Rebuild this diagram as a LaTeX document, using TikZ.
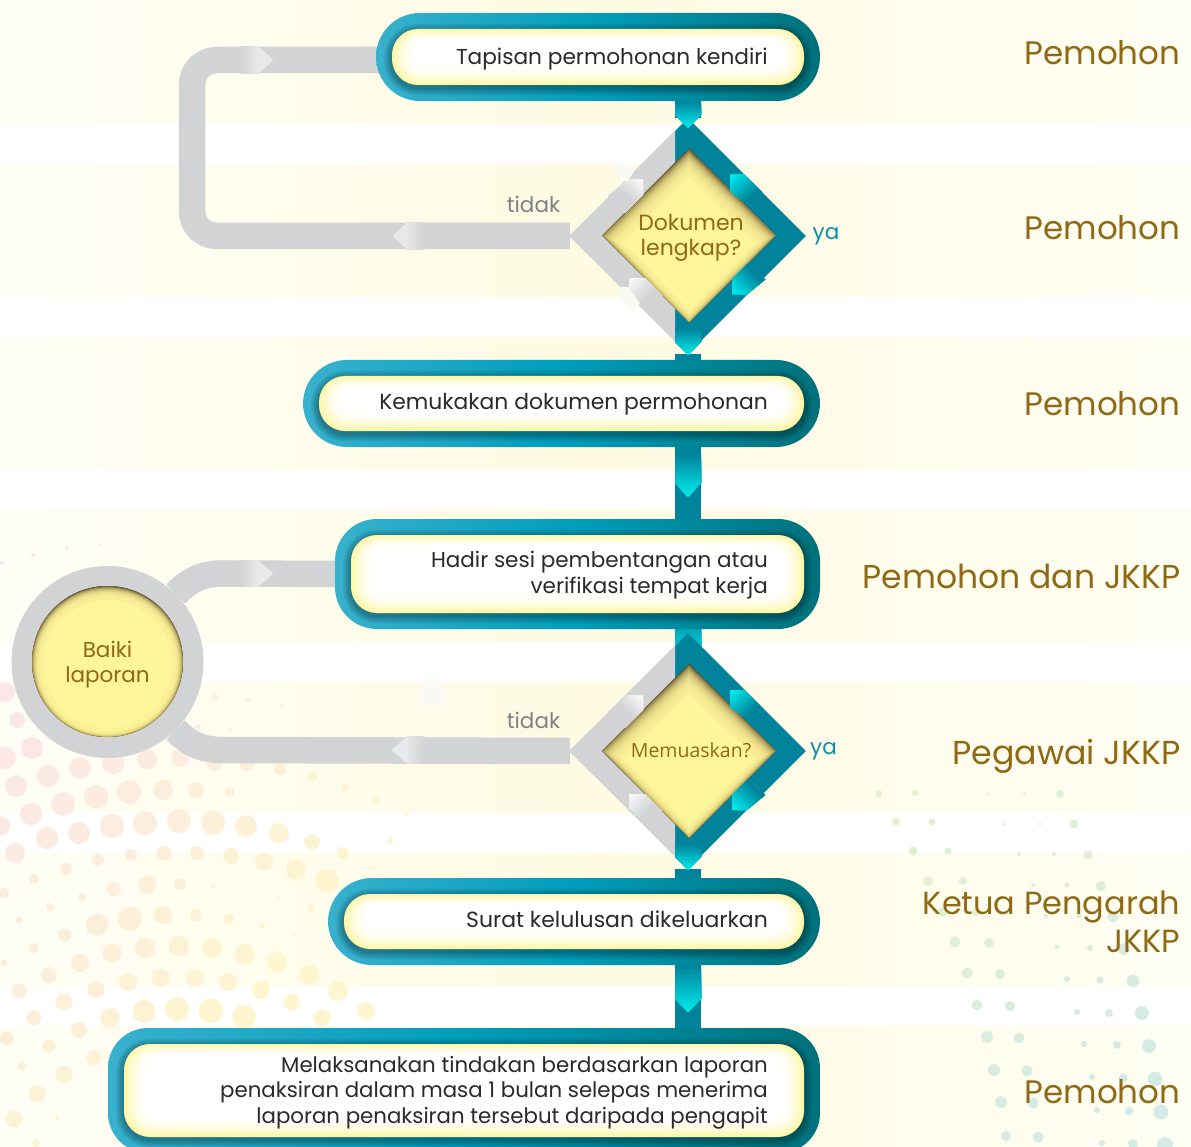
\documentclass[tikz,border=0pt]{standalone}
\usepackage{fontspec}
\usetikzlibrary{shapes.geometric,calc}
\setmainfont{Poppins}
\newfontfamily\narrowfont{Open Sans}
\pgfdeclarelayer{ground}
\pgfdeclarelayer{links}
\pgfsetlayers{ground,links,main}
\definecolor{bandl}{HTML}{FFFEF5}
\definecolor{bandm}{HTML}{FEFBE2}
\definecolor{bandr}{HTML}{FFFEF3}
\definecolor{rimL}{HTML}{38B1CD}
\definecolor{rimM}{HTML}{009DBB}
\definecolor{rimR}{HTML}{00717A}
\definecolor{stemc}{HTML}{00839B}
\definecolor{cyanc}{HTML}{00F0F0}
\definecolor{grayc}{HTML}{D1D3D4}
\definecolor{glowy}{HTML}{FFF6A6}
\definecolor{goldt}{HTML}{8F6914}
\definecolor{darkt}{HTML}{2A2A2E}
\definecolor{grayt}{HTML}{7F8285}
\definecolor{yat}{HTML}{0A8FA8}
\definecolor{dyel}{HTML}{FFF59B}
\definecolor{dbrT}{HTML}{75633A}
\definecolor{dbrB}{HTML}{C2AE55}
\definecolor{dotp}{HTML}{FBE6EA}
\definecolor{doty}{HTML}{FDF6CF}
\definecolor{dotg}{HTML}{E7F0CC}
\definecolor{dott}{HTML}{D4ECE6}
\definecolor{ghost}{HTML}{FAFAF4}
\colorlet{hilite}{white!92!grayc}
\colorlet{tipgray}{grayc!50!white}
\tikzset{
  band/.style={left color=bandl,right color=bandr,middle color=bandm},
  grayline/.style={draw=grayc,line width=26.5pt,line cap=butt,line join=round},
  stemline/.style={draw=stemc,line width=26pt},
  outerbox/.style={rectangle,inner sep=0pt,left color=rimL,right color=rimR,middle color=rimM},
  boxtext/.style={anchor=east,align=right,inner sep=0pt,text=darkt,font=\fontsize{21.6}{25.5}\selectfont},
  roletext/.style={anchor=east,align=right,inner sep=0pt,text=goldt,font=\fontsize{32.5}{38}\selectfont},
  goldtext/.style={align=center,inner sep=0pt,text=goldt,font=\fontsize{22}{25.5}\selectfont},
  sidetext/.style={inner sep=0pt,font=\fontsize{21.5}{25}\selectfont},
  decisionrim/.style={diamond,aspect=1,inner sep=0pt,minimum width=236pt,minimum height=236pt,fill=stemc},
  ringnode/.style={circle,inner sep=0pt,minimum size=192pt,fill=grayc},
}
% #1 polygon, #2 #3 start, #4 #5 unit direction, #6 length, #7 start colour, #8 end colour
\newcommand\decal[8]{%
  \begin{scope}
  \clip #1;
  \foreach \i in {0,...,18}{
    \pgfmathsetmacro\t{\i*(#6)/18}
    \pgfmathtruncatemacro\p{100*\i/18}
    \pgfmathsetmacro\ax{(#2)+\t*(#4)+200*(#5)}
    \pgfmathsetmacro\ay{(#3)+\t*(#5)-200*(#4)}
    \pgfmathsetmacro\bx{(#2)+\t*(#4)-200*(#5)}
    \pgfmathsetmacro\by{(#3)+\t*(#5)+200*(#4)}
    \pgfmathsetmacro\cx{\bx+300*(#4)}
    \pgfmathsetmacro\cy{\by+300*(#5)}
    \pgfmathsetmacro\dx{\ax+300*(#4)}
    \pgfmathsetmacro\dy{\ay+300*(#5)}
    \fill[#8!\p!#7] (\ax,\ay) -- (\bx,\by) -- (\cx,\cy) -- (\dx,\dy) -- cycle;
  }
  \end{scope}
}
% #1 top, #2 notch, #3 tip
\newcommand\chevron[3]{%
  \decal{(675,#1) -- (701,#1) -- (701,#2) -- (688,#3) -- (675,#2) -- cycle}{688}{#1}{0}{1}{#3-(#1)}{stemc}{cyanc}
}
% #1 name, #2 left x, #3 top y, #4 bottom y, #5 outer radius, #6 inner radius
\newcommand\flowbox[6]{%
  \pgfmathsetmacro\bw{820-#2}\pgfmathsetmacro\bh{#4-#3}%
  \pgfmathsetmacro\bcx{(820+#2)/2}\pgfmathsetmacro\bcy{(#3+#4)/2}%
  \node[outerbox,rounded corners=#5pt,minimum width=\bw pt,minimum height=\bh pt] (#1) at (\bcx,\bcy) {};
  \pgfmathsetmacro\ilx{#2+16}\pgfmathsetmacro\ity{#3+16}%
  \ifnum#4>1147\relax\pgfmathsetmacro\iby{1137}\else\pgfmathsetmacro\iby{#4-16}\fi
  \foreach \i in {1,...,6}{
    \pgfmathsetmacro\e{\i*1.3}
    \fill[black,fill opacity=.055,rounded corners=(#6+\e)*1pt] (\ilx-\e,\ity+2.5-\e) rectangle (804+\e,\iby+2.5+\e);
  }
  \foreach \i in {0,...,11}{
    \pgfmathtruncatemacro\p{100*(1-\i/12)*(1-\i/12)}
    \pgfmathsetmacro\rr{max(#6-\i*1.5,2)}
    \fill[glowy!\p!white,rounded corners=\rr pt] (\ilx+\i*2,\ity+\i*1.1) rectangle (804-\i*2,\iby-\i*1.7);
  }
}
% shaded pit of a diamond: #1 centre y
\newcommand\pitdiamond[1]{%
  \fill[top color=dbrT,bottom color=dbrB] (689,#1-87) -- (776,#1) -- (689,#1+87) -- (602,#1) -- cycle;
  \foreach \i in {1,...,14}{
    \pgfmathsetmacro\h{87-\i*1.5}
    \pgfmathsetmacro\c{#1+\i*.55}
    \fill[dyel,fill opacity=.24] (689,\c-\h) -- (689+\h,\c) -- (689,\c+\h) -- (689-\h,\c) -- cycle;
  }
  \pgfmathsetmacro\h{87-21}\pgfmathsetmacro\c{#1+7.7}
  \fill[dyel] (689,\c-\h) -- (689+\h,\c) -- (689,\c+\h) -- (689-\h,\c) -- cycle;
}
% highlights on a decision rim: #1 centre y
\newcommand\rimdecals[1]{%
  \decal{(730,#1-61) -- (744,#1-61) -- (762,#1-43) -- (750,#1-30) -- (730,#1-44) -- cycle}{730}{#1-61}{.707}{.707}{30}{cyanc}{stemc}
  \decal{(732,#1+59) -- (732,#1+44) -- (748,#1+28) -- (765,#1+44) -- (747,#1+59) -- cycle}{732}{#1+59}{.707}{-.707}{30}{cyanc}{stemc}
  \decal{(643,#1-56) -- (643,#1-41) -- (625,#1-23) -- (608,#1-39) -- (628,#1-56) -- cycle}{643}{#1-56}{-.707}{.707}{23}{hilite}{grayc}
  \decal{(629,#1+43) -- (645,#1+43) -- (662,#1+60) -- (646,#1+74) -- (629,#1+57) -- cycle}{629}{#1+43}{.707}{.707}{25}{hilite}{grayc}
}
\begin{document}
\begin{tikzpicture}[x=1pt,y=-1pt]
\path[use as bounding box] (0,0) rectangle (1191,1147);
\begin{pgfonlayer}{ground}
\fill[white] (0,0) rectangle (1191,1147);
\foreach \a/\b in {0/124,165/297,338/469,509/641,682/812,853/985,1026/1147}
  \fill[band] (0,\a) rectangle (1191,\b);
\foreach \x/\y/\r in {33/555/2,67/548/2,2/563/2,100/544/1.5,
 5/692/10,17/720/8,32/748/11,5/758/11,48/776/11,80/768/11,113/763/11,147/759/10,180/758/9,214/763/8,247/764/7,280/769/6,313/777/5,345/787/4,376/800/3,406/814/2,
 16/786/11,63/804/12,96/797/12,129/792/12,163/790/10,196/790/8,230/792/5,31/814/11,79/833/11,112/826/12,145/823/12,179/821/12,213/823/12,246/826/11,279/833/10,312/842/8,47/838/11,0/826/10,
 215/697/3,248/700/2,282/705/1.5,198/727/2.5,231/730/1.5,
 15/853/10,343/853/6,390/841/3,373/868/2,98/860/6,131/855/6,164/853/7,197/853/7,231/856/8,264/862/9,296/870/10,327/881/12,
 66/869/6,34/879/5,4/893/5,114/889/7,147/885/9,180/884/6,213/886/2.5,82/897/4,50/907/4,19/920/3.5,
 97/925/11,130/919/12,163/915/9,196/915/6,229/919/5,262/926/3,294/935/1.5,311/908/4,279/898/1.5,
 65/935/6.5,34/948/5,4/963/3.5,112/953/9.5,145/948/10,179/946/10,212/948/10,245/954/10,277/962/10,309/975/10,338/991/10,366/1011/9,
 80/963/9,49/975/8,19/991/7.5,128/982/9,161/978/9,195/978/9,228/982/9,261/990/9,292/1002/8.5,322/1018/8.5,
 96/990/8.5,64/1002/8.5,34/1018/7.5,110/1018/10,144/1011/11.5,177/1009/12,211/1011/12.5,244/1017/12,
 79/1030/8,7/1038/7,49/1046/6.5,94/1058/7.5,64/1074/8.5,22/1066/4.5,37/1094/8.5,14/1119/8.5,36/1143/4,57/1118/2}{
  \pgfmathtruncatemacro\p{max(0,min(100,100-\x*.2-(\y-700)*.17))}
  \fill[dotp!\p!doty] (\x,\y) circle[radius=\r];
}
\foreach \x/\y/\r in {879/794/3.5,915/793/3,988/794/1.5,1024/794/1.5,1060/794/4,
 896/822/4,932/822/3.5,1004/824/1.5,1040/824/1.5,1074/824/4.5,
 913/851/4.5,948/851/3.5,1019/854/2,1054/854/2,1088/855/4.5,
 928/881/5,963/881/4,1033/885/2,1067/885/2.5,1101/886/5,
 943/912/5,976/912/4,1046/916/2,1079/916/2.5,1113/917/5.5,
 955/942/5.5,989/943/5,1057/947/2.5,1090/948/3,1124/949/6,
 967/973/5.5,1000/974/5,1067/979/3,1100/980/3.5,1133/981/6.5,
 977/1005/5.5,1010/1006/5,1077/1012/3,1109/1013/4,1142/1013/7,
 987/1037/6,1019/1038/5.5,1084/1044/3,1117/1045/4,1149/1046/7,
 994/1070/6,1027/1071/5.5,1092/1077/3,1123/1078/4.5,1155/1079/7.5,
 1001/1102/6,1033/1103/5.5,1097/1110/3,1129/1111/4.5,1161/1112/7.5,
 1006/1136/5,1038/1137/5.5,1102/1143/3,1133/1144/5,1165/1145/8}{
  \pgfmathtruncatemacro\p{max(0,min(100,(\y-800)*.22+(\x-900)*.2))}
  \fill[dott!\p!dotg] (\x,\y) circle[radius=\r];
}
\fill[ghost] (419,707) -- (419,688) -- (432,677) -- (445,688) -- (445,707) -- cycle;
\end{pgfonlayer}
% boxes
\flowbox{b1}{376}{13}{101}{44}{26}
\flowbox{b2}{303}{360}{447}{44}{26}
\flowbox{b3}{335}{519}{629}{42}{26}
\flowbox{b4}{328}{878}{965}{44}{26}
\flowbox{b5}{108}{1028}{1153}{40}{26}
% circle
\node[ringnode] (circ) at (107.5,662) {};
\fill[top color=dbrT,bottom color=dbrB] (107.5,661.5) circle[radius=75.5];
\foreach \i in {1,...,9}{
  \pgfmathsetmacro\rr{75.5-\i*.9}
  \fill[dyel,fill opacity=.32] (107.5,661.5+\i*.3) circle[radius=\rr];
}
\fill[dyel] (107.5,664) circle[radius=64];
% decisions
\node[decisionrim] (d1) at (688,236) {};
\fill[grayc] ([xshift=-.6pt]d1.west) -- (675,130.4) -- (675,341.6) -- cycle;
\pitdiamond{235.5}
\rimdecals{235.5}
\fill[ghost] (612,172) -- (623,162) -- (635,170) -- (627,182) -- cycle;
\fill[ghost] (619,287) -- (628,287) -- (640,303) -- (632,312) -- (619,297) -- cycle;
\node[decisionrim] (d2) at (688,751) {};
\fill[grayc] ([xshift=-.6pt]d2.west) -- (675,645.4) -- (675,856.6) -- cycle;
\pitdiamond{751}
\rimdecals{751}
% connectors, painted below the shapes
\begin{pgfonlayer}{links}
\coordinate (loopL) at (192,148);
\coordinate (bendT) at (222,573.5);
\coordinate (bendB) at (222,750);
\draw[grayline,rounded corners=25pt] (d1.west) -| (loopL) |- ([yshift=-3pt,xshift=10pt]b1.west);
\draw[grayline] ([xshift=10pt]b3.west) -- (bendT) to[out=180,in=45] (circ.45);
\draw[grayline] (d2.west) -- (bendB) to[out=180,in=-45] (circ.-45);
\decal{(240,46.5) -- (258,46.5) -- (273,60) -- (258,73.5) -- (240,73.5) -- cycle}{240}{60}{1}{0}{18}{grayc}{tipgray}
\decal{(425,222.7) -- (407,222.7) -- (393,236) -- (407,249.3) -- (425,249.3) -- cycle}{425}{236}{-1}{0}{18}{grayc}{tipgray}
\decal{(240,560.3) -- (258,560.3) -- (273,573.5) -- (258,586.7) -- (240,586.7) -- cycle}{240}{573.5}{1}{0}{18}{grayc}{tipgray}
\decal{(425,736.7) -- (407,736.7) -- (392,750) -- (407,763.3) -- (425,763.3) -- cycle}{425}{750}{-1}{0}{18}{grayc}{tipgray}
\draw[stemline] ([xshift=90pt]b1.south) -- (d1.north);
\draw[stemline] (d1.south) -- (d1.south |- b2.north);
\draw[stemline] (d1.south |- b2.south) -- (d1.south |- b3.north);
\draw[stemline] (d2.north |- b3.south) -- (d2.north);
\draw[stemline] (d2.south) -- (d2.south |- b4.north);
\draw[stemline] (d2.south |- b4.south) -- (d2.south |- b5.north);
\chevron{612}{649}{662}
\end{pgfonlayer}
% chevrons over the shapes
\chevron{101}{115}{128}
\chevron{328}{342}{355}
\chevron{453}{483}{497}
\chevron{844}{857}{870}
\chevron{965}{999}{1012}
% texts
\node[boxtext,font=\fontsize{21.65}{25.5}\selectfont] (t1) at (768,59) {Tapisan permohonan kendiri};
\node[boxtext,font=\fontsize{21.85}{25.5}\selectfont] (t2) at (768,404) {Kemukakan dokumen permohonan};
\node[boxtext,font=\fontsize{21.5}{25.5}\selectfont] (t3) at (768,575) {Hadir sesi pembentangan atau\\verifikasi tempat kerja};
\node[boxtext,font=\fontsize{21.95}{25.5}\selectfont] (t4) at (768,919) {Surat kelulusan dikeluarkan};
\node[boxtext,font=\fontsize{21.3}{25.5}\selectfont] (t5) at (768,1092.5) {Melaksanakan tindakan berdasarkan laporan\\penaksiran dalam masa 1 bulan selepas menerima\\laporan penaksiran tersebut daripada pengapit};
\node[goldtext] (q1) at (691,238) {Dokumen\\lengkap?};
\node[goldtext,font=\narrowfont\fontsize{19.5}{24}\selectfont] (q2) at (691,750) {Memuaskan?};
\node[goldtext,font=\fontsize{21.5}{25.5}\selectfont] (q3) at (107.5,664.5) {Baiki\\laporan};
\node[sidetext,text=grayt] (n1) at (533.5,204) {tidak};
\node[sidetext,text=grayt] (n2) at (533.5,720) {tidak};
\node[sidetext,text=yat] (y1) at (826,236) {ya};
\node[sidetext,text=yat] (y2) at (823.5,751) {ya};
\node[roletext] (r1) at (1180.5,53) {Pemohon};
\node[roletext] (r2) at (1180.5,228) {Pemohon};
\node[roletext] (r3) at (1180.5,404) {Pemohon};
\node[roletext,font=\fontsize{33}{38}\selectfont] (r4) at (1180.5,576) {Pemohon dan JKKP};
\node[roletext,font=\fontsize{33.2}{38}\selectfont] (r5) at (1180.5,756) {Pegawai JKKP};
\node[roletext,font=\fontsize{32}{38}\selectfont] (r6) at (1180.5,922) {Ketua Pengarah\\JKKP};
\node[roletext] (r7) at (1180.5,1092) {Pemohon};
\end{tikzpicture}
\end{document}
